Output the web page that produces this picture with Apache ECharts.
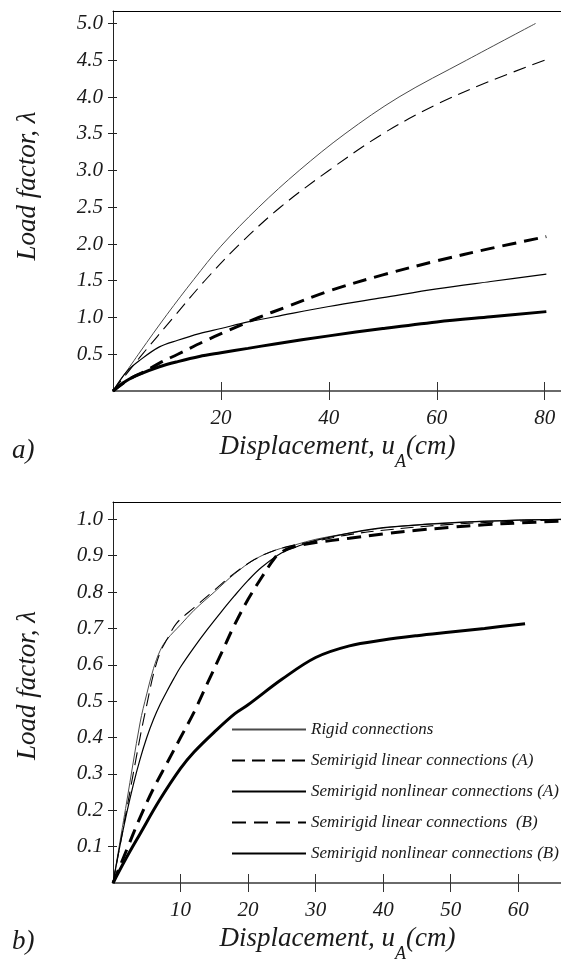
<!DOCTYPE html>
<html><head><meta charset="utf-8">
<script src="https://cdn.jsdelivr.net/npm/echarts@6/dist/echarts.min.js"></script>
<style>html,body{margin:0;padding:0;background:#fff}#c{width:561px;height:960px}</style>
</head><body><div id="c"></div>
<script>
// ---------- DATA ----------
const seriesNames = ['Rigid connections', 'Semirigid linear connections (A)', 'Semirigid nonlinear connections (A)', 'Semirigid linear connections  (B)', 'Semirigid nonlinear connections (B)'];

// chart a)
const xTicksA = [20, 40, 60, 80];
const yTicksA = [0.5, 1.0, 1.5, 2.0, 2.5, 3.0, 3.5, 4.0, 4.5, 5.0];
const rigidA_x = [0, 5, 10, 15, 20, 27, 34.5, 43, 53, 65.5, 78.3];
const rigidA_y = [0, 0.53, 1.04, 1.52, 1.97, 2.5, 3.0, 3.5, 4.0, 4.5, 5.0];
const linAA_x = [0, 5, 11.2, 17, 23.5, 31, 40, 50, 60, 70, 80];
const linAA_y = [0, 0.46, 1.0, 1.5, 2.0, 2.5, 3.0, 3.5, 3.9, 4.22, 4.5];
const nonlinAA_x = [0, 2.5, 5, 8.6, 12, 16, 20, 25, 30, 40, 50, 60, 70, 80.3];
const nonlinAA_y = [0, 0.26, 0.42, 0.6, 0.69, 0.78, 0.85, 0.94, 1.01, 1.15, 1.27, 1.39, 1.49, 1.59];
const linBA_x = [0, 3, 6, 8.6, 12, 17.3, 21.6, 27, 32, 40, 50, 60, 70, 80.3];
const linBA_y = [0, 0.16, 0.27, 0.38, 0.5, 0.69, 0.83, 1.0, 1.14, 1.36, 1.58, 1.77, 1.94, 2.1];
const nonlinBA_x = [0, 2.5, 5, 8.6, 12, 16, 20, 25, 30, 40, 50, 60, 70, 80.3];
const nonlinBA_y = [0, 0.14, 0.23, 0.33, 0.4, 0.47, 0.52, 0.58, 0.64, 0.75, 0.85, 0.94, 1.01, 1.08];

// chart b)
const xTicksB = [10, 20, 30, 40, 50, 60];
const yTicksB = [0.1, 0.2, 0.3, 0.4, 0.5, 0.6, 0.7, 0.8, 0.9, 1.0];
const rigidB_x = [0, 2, 4, 5, 6, 7, 8, 10, 12, 15, 18, 21, 24, 27, 30, 35, 40, 45, 50, 55, 60, 66.5];
const rigidB_y = [0, 0.22, 0.44, 0.52, 0.59, 0.64, 0.67, 0.71, 0.75, 0.8, 0.85, 0.89, 0.915, 0.93, 0.945, 0.962, 0.976, 0.985, 0.991, 0.995, 0.998, 1.0];
const linAB_x = [0, 2, 4, 5, 6, 7, 8, 9.4, 12, 15, 18, 21, 24, 27, 30, 35, 40, 50, 60, 66.5];
const linAB_y = [0, 0.2, 0.4, 0.49, 0.575, 0.635, 0.67, 0.714, 0.757, 0.805, 0.852, 0.89, 0.915, 0.93, 0.94, 0.958, 0.97, 0.986, 0.995, 0.999];
const nonlinAB_x = [0, 1, 2, 3, 4, 5, 6, 7, 8, 9, 10, 12, 14, 16, 18, 20, 22, 25, 28, 30, 35, 40, 50, 60, 66.5];
const nonlinAB_y = [0, 0.1, 0.19, 0.27, 0.34, 0.4, 0.45, 0.492, 0.528, 0.562, 0.594, 0.648, 0.698, 0.745, 0.79, 0.832, 0.868, 0.908, 0.93, 0.942, 0.962, 0.977, 0.99, 0.998, 1.0];
const linBB_x = [0, 2, 4, 6, 8, 10, 12, 14, 16, 18, 20, 22, 24, 25, 26, 28, 30, 35, 40, 45, 50, 55, 60, 66.5];
const linBB_y = [0, 0.09, 0.18, 0.26, 0.33, 0.4, 0.47, 0.55, 0.63, 0.71, 0.78, 0.84, 0.895, 0.91, 0.92, 0.93, 0.936, 0.948, 0.96, 0.97, 0.978, 0.985, 0.99, 0.995];
const nonlinBB_x = [0, 2, 4, 6.9, 10, 12, 15, 18, 20, 25, 30, 35, 40, 45, 50, 55, 61];
const nonlinBB_y = [0, 0.07, 0.135, 0.228, 0.315, 0.36, 0.415, 0.465, 0.49, 0.56, 0.62, 0.652, 0.668, 0.68, 0.69, 0.70, 0.713];

// ---------- CHART ----------
const FONT = "'Liberation Serif','DejaVu Serif','Times New Roman',serif";
const TXT = '#1a1a1a';
const pairs = (xs, ys) => xs.map((x, i) => [x, ys[i]]);

const styles = [
  { color: '#4a4a4a', width: 1, type: 'solid' },
  { color: '#000', width: 1.1, type: [13, 7] },
  { color: '#000', width: 1.2, type: 'solid' },
  { color: '#000', width: 3, type: [14, 8] },
  { color: '#000', width: 3, type: 'solid' }
];

const rangesA = { xMax: 83.2, yMax: 5.17 };
const rangesB = { xMax: 66.47, yMax: 1.0476 };

function xAxes(grid, ticks, xMax) {
  const base = { gridIndex: grid, type: 'value', min: 0, max: xMax, splitLine: { show: false } };
  return [
    Object.assign({}, base, {
      position: 'bottom',
      axisLine: { show: true, lineStyle: { color: '#6a6a6a', width: 2 } },
      axisTick: { show: true, customValues: ticks, length: 9, lineStyle: { color: '#333', width: 1 } },
      axisLabel: { customValues: ticks, margin: 17, fontFamily: FONT, fontStyle: 'italic', fontSize: 21, color: TXT },
      name: '{m|Displacement, u}{s|A}{m|(cm)}',
      nameLocation: 'middle', nameGap: 42,
      nameTextStyle: {
        fontFamily: FONT, fontStyle: 'italic', fontSize: 27, color: TXT,
        rich: {
          m: { fontFamily: FONT, fontStyle: 'italic', fontSize: 27, color: TXT, verticalAlign: 'top' },
          s: { fontFamily: FONT, fontStyle: 'italic', fontSize: 18, color: TXT, verticalAlign: 'top', padding: [20, 0, 0, 0] }
        }
      }
    }),
    Object.assign({}, base, {
      position: 'bottom',
      axisLine: { show: false },
      axisTick: { show: true, inside: true, customValues: ticks, length: 9, lineStyle: { color: '#333', width: 1 } },
      axisLabel: { show: false }
    }),
    Object.assign({}, base, {
      position: 'top',
      axisLine: { show: true, lineStyle: { color: '#000', width: 1 } },
      axisTick: { show: false },
      axisLabel: { show: false }
    })
  ];
}
function yAxes(grid, ticks, yMax, shift) {
  const base = { gridIndex: grid, type: 'value', min: 0, max: yMax, splitLine: { show: false } };
  return [
    Object.assign({}, base, {
      position: 'left',
      axisLine: { show: true, lineStyle: { color: '#222', width: 1 } },
      axisTick: { show: true, customValues: ticks, length: 5, lineStyle: { color: '#222', width: 1 } },
      axisLabel: { customValues: ticks, margin: 10, fontFamily: FONT, fontStyle: 'italic', fontSize: 21, color: TXT,
        formatter: v => v.toFixed(1) },
      name: 'Load factor, λ',
      nameLocation: 'middle', nameGap: 72,
      nameTextStyle: { fontFamily: FONT, fontStyle: 'italic', fontSize: 27, color: TXT, padding: [0, 0, 0, shift] }
    }),
    Object.assign({}, base, {
      position: 'left',
      axisLine: { show: false },
      axisTick: { show: true, inside: true, customValues: ticks, length: 4, lineStyle: { color: '#222', width: 1 } },
      axisLabel: { show: false }
    })
  ];
}

function makeSeries(xIdx, yIdx, sets) {
  return sets.map((d, i) => ({
    type: 'line', name: seriesNames[i], xAxisIndex: xIdx, yAxisIndex: yIdx,
    data: pairs(d[0], d[1]), symbol: 'none', showSymbol: false,
    smooth: 0.35, clip: true,
    lineStyle: { color: styles[i].color, width: styles[i].width, type: styles[i].type },
    itemStyle: { color: styles[i].color },
    emphasis: { disabled: true }, z: 3 + i
  }));
}

const option = {
  animation: false,
  backgroundColor: '#fff',
  grid: [
    { left: 113, top: 11, width: 449, height: 380, outerBoundsMode: 'none', containLabel: false },
    { left: 113, top: 502, width: 449, height: 381, outerBoundsMode: 'none', containLabel: false }
  ],
  xAxis: [...xAxes(0, xTicksA, rangesA.xMax), ...xAxes(1, xTicksB, rangesB.xMax)],
  yAxis: [...yAxes(0, yTicksA, rangesA.yMax, 30), ...yAxes(1, yTicksB, rangesB.yMax, 14)],
  legend: {
    show: true, orient: 'vertical', left: 226, top: 716,
    itemWidth: 74, itemHeight: 14, itemGap: 14, selectedMode: false,
    itemStyle: { opacity: 0 },
    textStyle: { fontFamily: FONT, fontStyle: 'italic', fontSize: 17, color: TXT },
    data: seriesNames
  },
  graphic: [
    { type: 'text', left: 12, top: 437, style: { text: 'a)', font: "italic 27px 'Liberation Serif'", fill: TXT } },
    { type: 'text', left: 12, top: 928, style: { text: 'b)', font: "italic 27px 'Liberation Serif'", fill: TXT } }
  ],
  series: [
    ...makeSeries(0, 0, [[rigidA_x, rigidA_y], [linAA_x, linAA_y], [nonlinAA_x, nonlinAA_y], [linBA_x, linBA_y], [nonlinBA_x, nonlinBA_y]]),
    ...makeSeries(3, 2, [[rigidB_x, rigidB_y], [linAB_x, linAB_y], [nonlinAB_x, nonlinAB_y], [linBB_x, linBB_y], [nonlinBB_x, nonlinBB_y]])
  ]
};
const chart = echarts.init(document.getElementById('c'));
chart.setOption(option);
</script>
</body></html>
